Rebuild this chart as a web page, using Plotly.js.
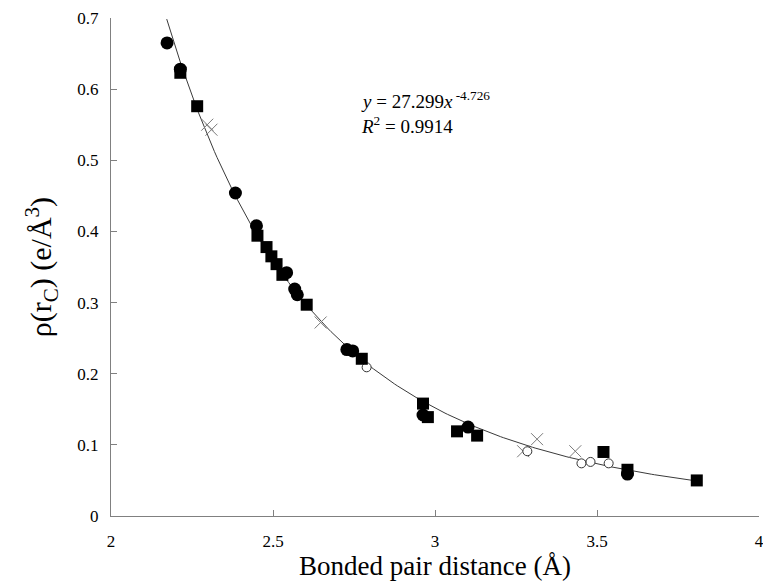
<!DOCTYPE html>
<html>
<head>
<meta charset="utf-8">
<script src="https://cdn.plot.ly/plotly-3.0.1.min.js"></script>
<style>html,body{margin:0;padding:0;background:#fff;}#chart{width:763px;height:584px;}</style>
</head>
<body>
<div id="chart"></div>
<script>
// Filled circles
const circX = [2.173, 2.214, 2.384, 2.449, 2.542, 2.567, 2.575, 2.728, 2.746, 2.963, 3.102, 3.594];
const circY = [0.665, 0.628, 0.454, 0.408, 0.342, 0.319, 0.311, 0.234, 0.232, 0.142, 0.125, 0.059];
// Filled squares
const sqX = [2.214, 2.266, 2.452, 2.480, 2.495, 2.511, 2.529, 2.604, 2.774, 2.963, 2.978, 3.068, 3.130, 3.520, 3.594, 3.808];
const sqY = [0.623, 0.576, 0.394, 0.378, 0.365, 0.354, 0.339, 0.297, 0.221, 0.158, 0.139, 0.119, 0.113, 0.090, 0.065, 0.050];
// Crosses
const crX = [2.297, 2.310, 2.647, 3.272, 3.315, 3.433];
const crY = [0.550, 0.543, 0.272, 0.091, 0.108, 0.091];
// Open circles
const ocX = [2.789, 3.285, 3.452, 3.480, 3.536];
const ocY = [0.209, 0.091, 0.074, 0.076, 0.074];
// Power trendline y = A x^B (from the chart label)
const fitA = 27.299;
const fitB = -4.726;
const fitRange = [2.172, 3.808];

const fx = [], fy = [];
for (let i = 0; i <= 200; i++) {
  const x = fitRange[0] + (fitRange[1] - fitRange[0]) * i / 200;
  fx.push(x); fy.push(fitA * Math.pow(x, fitB));
}

const traces = [
  {x: fx, y: fy, mode: 'lines', line: {color: '#3a3a3a', width: 1}, hoverinfo: 'skip'},
  {x: crX, y: crY, mode: 'markers', marker: {symbol: 'x-thin', size: 12, line: {color: '#7a7a7a', width: 1}}},
  {x: ocX, y: ocY, mode: 'markers', marker: {symbol: 'circle', size: 9, color: '#ffffff', line: {color: '#333', width: 1}}},
  {x: circX, y: circY, mode: 'markers', marker: {symbol: 'circle', size: 13, color: '#000'}},
  {x: sqX, y: sqY, mode: 'markers', marker: {symbol: 'square', size: 12, color: '#000'}}
];

const font = '"Liberation Serif", "Times New Roman", serif';
const layout = {
  width: 763, height: 584,
  margin: {l: 111, r: 4, t: 18, b: 68},
  paper_bgcolor: '#fff', plot_bgcolor: '#fff',
  showlegend: false,
  font: {family: font, color: '#000', size: 16},
  xaxis: {
    range: [2, 4], dtick: 0.5, tick0: 2, showgrid: false, zeroline: false,
    showline: true, linecolor: '#808080', linewidth: 1,
    ticks: 'inside', ticklen: 6, tickcolor: '#808080',
    ticklabelstandoff: 10, ticklabeloverflow: 'allow',
    tickfont: {family: font, size: 17, color: '#000'},
    title: {text: 'Bonded pair distance (Å)', font: {family: font, size: 27, color: '#000'}, standoff: 2}
  },
  yaxis: {
    range: [0, 0.7], dtick: 0.1, showgrid: false, zeroline: false,
    showline: true, linecolor: '#808080', linewidth: 1,
    ticks: 'inside', ticklen: 6, tickcolor: '#808080',
    ticklabelstandoff: 8,
    tickfont: {family: font, size: 17, color: '#000'},
    title: {text: 'ρ(r<sub>C</sub>) (e/Å<sup>3</sup>)', font: {family: font, size: 30, color: '#000'}, standoff: 16}
  },
  annotations: [
    {xref: 'x', yref: 'y', x: 2.765, y: 0.585, xanchor: 'left', yanchor: 'middle', showarrow: false,
     text: '<i>y</i> = 27.299<i>x</i><sup> -4.726</sup>', font: {family: font, size: 19, color: '#000'}},
    {xref: 'x', yref: 'y', x: 2.765, y: 0.550, xanchor: 'left', yanchor: 'middle', showarrow: false,
     text: '<i>R</i><sup>2</sup> = 0.9914', font: {family: font, size: 19, color: '#000'}}
  ]
};

Plotly.newPlot('chart', traces, layout, {displayModeBar: false, staticPlot: true});
</script>
</body>
</html>
